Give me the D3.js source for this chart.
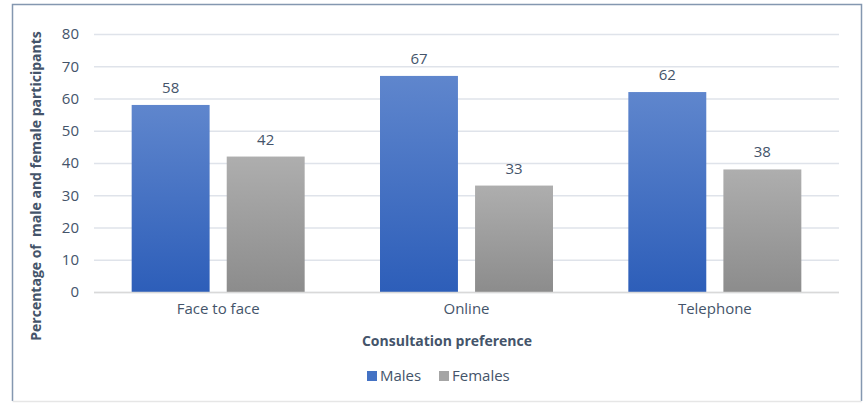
<!DOCTYPE html>
<html>
<head>
<meta charset="utf-8">
<script src="https://cdn.jsdelivr.net/npm/d3@7"></script>
<style>
  html, body { margin: 0; padding: 0; background: #fff; }
  svg { display: block; font-family: "Open Sans", "Liberation Sans", sans-serif; }
</style>
</head>
<body>
<svg id="chart" width="865" height="403"></svg>
<script>
const categories = ["Face to face", "Online", "Telephone"];
const seriesNames = ["Males", "Females"];
const males = [58, 67, 62];
const females = [42, 33, 38];
const yTicks = [0, 10, 20, 30, 40, 50, 60, 70, 80];

const svg = d3.select("#chart");
const W = 865, H = 403;
const margin = { left: 94, right: 26, top: 34, bottom: 111 };
const textColor = "#44546A";

// frame around the chart area: blue-grey on three sides, light grey at the bottom
svg.append("path")
  .attr("d", "M12.5,401 L12.5,4.5 L861.5,4.5 L861.5,401")
  .attr("fill", "none")
  .attr("stroke", "#8497b0").attr("stroke-width", 1.5);
svg.append("line")
  .attr("x1", 12.5).attr("x2", 861.5).attr("y1", 401.5).attr("y2", 401.5)
  .attr("stroke", "#e6e6e6").attr("stroke-width", 1.5);

const defs = svg.append("defs");
const gradMale = defs.append("linearGradient").attr("id", "gMale")
  .attr("x1", 0).attr("y1", 0).attr("x2", 0).attr("y2", 1);
gradMale.append("stop").attr("offset", "0%").attr("stop-color", "#5F86CD");
gradMale.append("stop").attr("offset", "100%").attr("stop-color", "#2D5EB9");
const gradFemale = defs.append("linearGradient").attr("id", "gFemale")
  .attr("x1", 0).attr("y1", 0).attr("x2", 0).attr("y2", 1);
gradFemale.append("stop").attr("offset", "0%").attr("stop-color", "#AEAEAE");
gradFemale.append("stop").attr("offset", "100%").attr("stop-color", "#8C8C8C");

const fills = { Males: "url(#gMale)", Females: "url(#gFemale)" };
const legendFills = { Males: "#4472C4", Females: "#A5A5A5" };

const x0 = d3.scaleBand().domain(categories)
  .range([margin.left, W - margin.right]).paddingInner(0).paddingOuter(0);
const groupW = 173;
const x1 = d3.scaleBand().domain(seriesNames)
  .range([0, groupW]).paddingInner(0.18).paddingOuter(0);
const y = d3.scaleLinear().domain([0, 80]).range([H - margin.bottom, margin.top]);

// gridlines
svg.append("g")
  .selectAll("line").data(yTicks).join("line")
  .attr("x1", margin.left).attr("x2", W - margin.right)
  .attr("y1", d => y(d) + 0.5).attr("y2", d => y(d) + 0.5)
  .attr("stroke", "#dfe3ea").attr("stroke-width", 1.5);

// y axis labels
const yAxis = d3.axisLeft(y).tickValues(yTicks).tickSize(0).tickPadding(0);
const gy = svg.append("g").attr("transform", `translate(${79},0)`).call(yAxis);
gy.select(".domain").remove();
gy.selectAll("text").attr("font-size", 15).attr("fill", textColor)
  .attr("font-family", "Open Sans, sans-serif");

// bars
const rows = categories.map((c, i) => ({ cat: c, vals: [
  { s: "Males", v: males[i] }, { s: "Females", v: females[i] }] }));

const groups = svg.append("g").selectAll("g").data(rows).join("g")
  .attr("transform", d => `translate(${x0(d.cat) + (x0.bandwidth() - groupW) / 2},0)`);

groups.selectAll("rect").data(d => d.vals).join("rect")
  .attr("x", d => x1(d.s)).attr("width", x1.bandwidth())
  .attr("y", d => y(d.v)).attr("height", d => y(0) - y(d.v))
  .attr("fill", d => fills[d.s]);

groups.selectAll("text").data(d => d.vals).join("text")
  .attr("x", d => x1(d.s) + x1.bandwidth() / 2)
  .attr("y", d => y(d.v) - 12)
  .attr("text-anchor", "middle")
  .attr("font-size", 15).attr("fill", textColor)
  .text(d => d.v);

// baseline
svg.append("line")
  .attr("x1", margin.left).attr("x2", W - margin.right)
  .attr("y1", y(0) + 0.5).attr("y2", y(0) + 0.5)
  .attr("stroke", "#d9d9d9").attr("stroke-width", 1.5);

// category labels
const xAxis = d3.axisBottom(x0).tickSize(0).tickPadding(0);
const gx = svg.append("g").attr("transform", `translate(0,${y(0) + 17})`).call(xAxis);
gx.select(".domain").remove();
gx.selectAll("text").attr("font-size", 15).attr("fill", textColor)
  .attr("font-family", "Open Sans, sans-serif").attr("dy", "0.35em");

// axis titles
svg.append("text")
  .attr("x", 447).attr("y", 346)
  .attr("text-anchor", "middle").attr("font-size", 14).attr("font-weight", "bold")
  .attr("fill", textColor).text("Consultation preference");

svg.append("text")
  .attr("transform", `translate(41,${186}) rotate(-90)`)
  .attr("text-anchor", "middle").attr("font-size", 14).attr("font-weight", "bold")
  .attr("fill", textColor).attr("xml:space", "preserve")
  .text("Percentage of  male and female participants");

// legend
const legend = svg.append("g").attr("transform", "translate(367,376)");
const lx = [0, 72];
seriesNames.forEach((s, i) => {
  const g = legend.append("g").attr("transform", `translate(${lx[i]},0)`);
  g.append("rect").attr("x", 0).attr("y", -5).attr("width", 10).attr("height", 10)
    .attr("fill", legendFills[s]);
  g.append("text").attr("x", 13).attr("y", 0).attr("dy", "0.35em")
    .attr("font-size", 15).attr("fill", textColor).text(s);
});
</script>
</body>
</html>
